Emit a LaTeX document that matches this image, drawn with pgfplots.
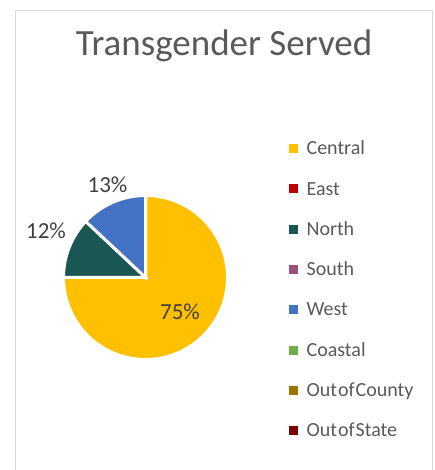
\documentclass[border=0pt]{standalone}
\usepackage{pgfplots}
\pgfplotsset{compat=1.18}
\usepackage{pgfplotstable}
\usepackage{fontspec}
\setmainfont{Carlito}
\definecolor{cCentral}{HTML}{FFC000}
\definecolor{cEast}{HTML}{C00000}
\definecolor{cNorth}{HTML}{1A5652}
\definecolor{cSouth}{HTML}{9B5078}
\definecolor{cWest}{HTML}{4472C4}
\definecolor{cCoastal}{HTML}{70AD47}
\definecolor{cOoC}{HTML}{9C7400}
\definecolor{cOoS}{HTML}{7A0000}
\definecolor{txtgray}{HTML}{595959}
\definecolor{lblgray}{HTML}{404040}
\definecolor{framegray}{HTML}{D9D9D9}

\pgfplotstableread{
region value color
Central 75 cCentral
East 0 cEast
North 12 cNorth
South 0 cSouth
West 13 cWest
Coastal 0 cCoastal
OutofCounty 0 cOoC
OutofState 0 cOoS
}\piedata

\begin{document}
\begin{tikzpicture}
\path[use as bounding box] (0,0) rectangle (435bp,470bp);
\begin{axis}[
  at={(0,0)}, anchor=south west,
  x=1bp, y=1bp, xmin=0, xmax=435, ymin=0, ymax=470,
  hide axis, clip=false, scale only axis,
  legend cell align=left,
  legend style={at={(axis cs:289,329.5)}, anchor=north west, draw=none, fill=none,
    inner sep=0pt, column sep=9bp, row sep=22.3bp,
    font=\fontsize{20bp}{24bp}\selectfont, text=txtgray,
    nodes={inner sep=0pt, text height=14bp, text depth=4bp}},
  sq/.style={legend image code/.code={\fill[#1] (0bp,-2.5bp) rectangle (8bp,5.5bp);}},
]
% frame and title
\draw[framegray, line width=1.2bp] (axis cs:15.5,459.5) rectangle (axis cs:432.5,-10);
\node[anchor=base, text=txtgray, font=\fontsize{37bp}{44bp}\selectfont] at (axis cs:224,414) {Transgender Served};
% pie slices from the table
\def\startang{90}
\pgfplotsforeachungrouped \i in {0,...,7}{%
  \pgfplotstablegetelem{\i}{value}\of\piedata \let\sliceval=\pgfplotsretval
  \pgfplotstablegetelem{\i}{color}\of\piedata \let\slicecol=\pgfplotsretval
  \pgfmathsetmacro\endang{\startang-3.6*\sliceval}%
  \ifdim\sliceval pt>0pt
    \edef\temp{\noexpand\fill[\slicecol, draw=white, line width=3bp, line join=miter]
      (axis cs:145.5,192.5) -- ++(\startang:82bp) arc[start angle=\startang, end angle=\endang, radius=82bp] -- cycle;}%
    \temp
  \fi
  \let\startang=\endang
}
% data labels
\node[anchor=base, text=lblgray, font=\fontsize{23bp}{28bp}\selectfont] at (axis cs:180,151) {75\%};
\node[anchor=base, text=lblgray, font=\fontsize{23bp}{28bp}\selectfont] at (axis cs:46,232) {12\%};
\node[anchor=base, text=lblgray, font=\fontsize{23bp}{28bp}\selectfont] at (axis cs:107.5,278) {13\%};
% legend
\addlegendimage{sq=cCentral}\addlegendentry{Central}
\addlegendimage{sq=cEast}\addlegendentry{East}
\addlegendimage{sq=cNorth}\addlegendentry{North}
\addlegendimage{sq=cSouth}\addlegendentry{South}
\addlegendimage{sq=cWest}\addlegendentry{West}
\addlegendimage{sq=cCoastal}\addlegendentry{Coastal}
\addlegendimage{sq=cOoC}\addlegendentry{{\spaceskip=1bp Out of County}}
\addlegendimage{sq=cOoS}\addlegendentry{{\spaceskip=1bp Out of State}}
\end{axis}
\end{tikzpicture}
\end{document}
